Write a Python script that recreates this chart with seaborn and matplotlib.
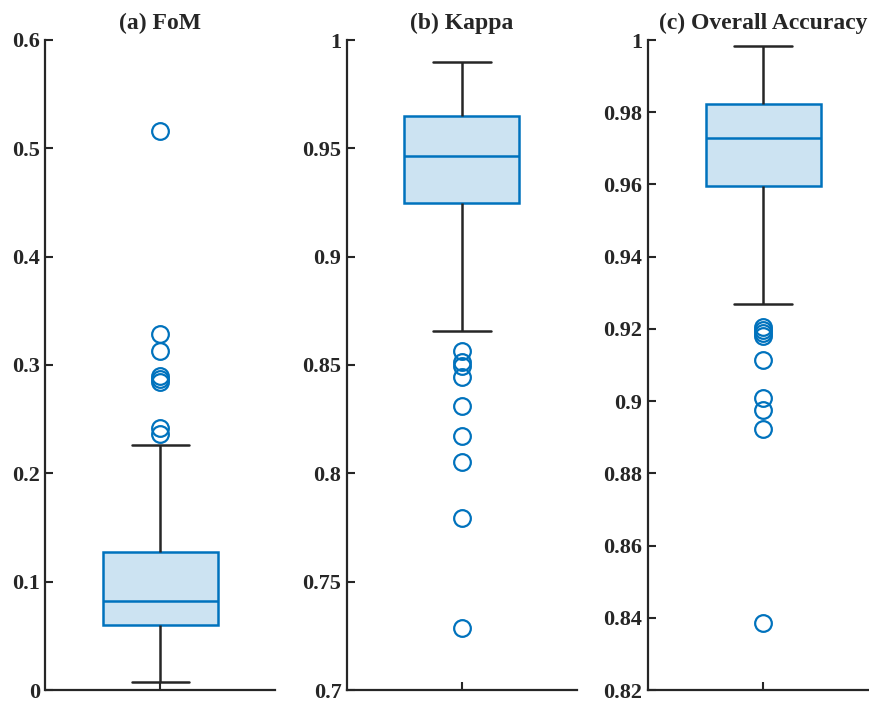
import numpy as np
import pandas as pd
import matplotlib
matplotlib.use('Agg')
import matplotlib.pyplot as plt
import seaborn as sns

# sorted samples (quartiles, whiskers, outliers)
fom = [0.0073, 0.014, 0.021, 0.027, 0.033, 0.038, 0.043, 0.048, 0.052, 0.056,
       0.0596, 0.062, 0.065, 0.067, 0.069, 0.071, 0.074, 0.076, 0.078, 0.080,
       0.0823, 0.086, 0.090, 0.094, 0.099, 0.104, 0.109, 0.114, 0.119, 0.123,
       0.1272, 0.168, 0.2266,
       0.2367, 0.2422, 0.2839, 0.2872, 0.2894, 0.3131, 0.3284, 0.5156]

kappa = [0.7286, 0.7794, 0.8054, 0.8174, 0.8313, 0.8445, 0.8494, 0.8514, 0.8563,
         0.8655,
         0.9248, 0.927, 0.929, 0.931, 0.933, 0.935, 0.937, 0.939, 0.942, 0.944,
         0.9463, 0.948, 0.950, 0.952, 0.954, 0.956, 0.958, 0.960, 0.962, 0.963,
         0.9647, 0.967, 0.969, 0.971, 0.973, 0.975, 0.977, 0.980, 0.983, 0.986, 0.990]

overall_acc = [0.8385, 0.8923, 0.8976, 0.9009, 0.9114, 0.9181, 0.9188, 0.9196, 0.9205,
               0.927,
               0.9596, 0.961, 0.962, 0.964, 0.965, 0.966, 0.968, 0.969, 0.970, 0.971,
               0.9728, 0.974, 0.975, 0.976, 0.977, 0.978, 0.979, 0.980, 0.981, 0.982,
               0.9824, 0.984, 0.985, 0.987, 0.988, 0.990, 0.991, 0.993, 0.995, 0.997, 0.9984]

titles = ['(a) FoM', '(b) Kappa', '(c) Overall Accuracy']
fom_ticks = [0, 0.1, 0.2, 0.3, 0.4, 0.5, 0.6]
kappa_ticks = [0.7, 0.75, 0.8, 0.85, 0.9, 0.95, 1]
oa_ticks = [0.82, 0.84, 0.86, 0.88, 0.9, 0.92, 0.94, 0.96, 0.98, 1]

sns.set_style('white')
plt.rcParams['font.family'] = ['Liberation Serif', 'DejaVu Serif']
plt.rcParams['font.weight'] = 'bold'

BLUE = '#0072BD'
FACE = '#CCE3F2'
DARK = '#262626'

fig = plt.figure(figsize=(8.7, 7.04), dpi=100)
lefts = [45.5 / 870, 347 / 870, 648 / 870]
w = 230 / 870
# raised a few px so the lowest tick labels stay inside the image
bottom = 1 - 690 / 704
h = (690 - 40) / 704

panels = [(fom, fom_ticks), (kappa, kappa_ticks), (overall_acc, oa_ticks)]
for left, title, (vals, ticks) in zip(lefts, titles, panels):
    ax = fig.add_axes([left, bottom, w, h])
    sns.boxplot(y=vals, ax=ax, width=0.5, saturation=1, color=FACE,
                linecolor=BLUE, linewidth=1.8,
                boxprops=dict(facecolor=FACE, edgecolor=BLUE),
                medianprops=dict(color=BLUE, linewidth=1.8),
                whiskerprops=dict(color=DARK, linewidth=1.8),
                capprops=dict(color=DARK, linewidth=1.8),
                flierprops=dict(marker='o', markerfacecolor='none',
                                markeredgecolor=BLUE, markersize=12,
                                markeredgewidth=1.6))
    ax.set_ylim(ticks[0], ticks[-1])
    ax.set_yticks(ticks)
    ax.set_yticklabels([f'{t:g}' for t in ticks])
    ax.set_xlim(-0.5, 0.5)
    ax.set_xticks([0])
    ax.set_xticklabels([''])
    ax.tick_params(left=True, bottom=True, direction='in', length=5.5,
                   width=1.5, color=DARK, labelsize=16, pad=4,
                   labelcolor=DARK)
    for side in ['top', 'right']:
        ax.spines[side].set_visible(False)
    for side in ['left', 'bottom']:
        ax.spines[side].set_linewidth(1.6)
        ax.spines[side].set_color(DARK)
    ax.set_ylabel('')
    ax.set_title(title, fontsize=17, fontweight='bold', pad=8)

plt.savefig('out.png', dpi=100)
plt.close()
